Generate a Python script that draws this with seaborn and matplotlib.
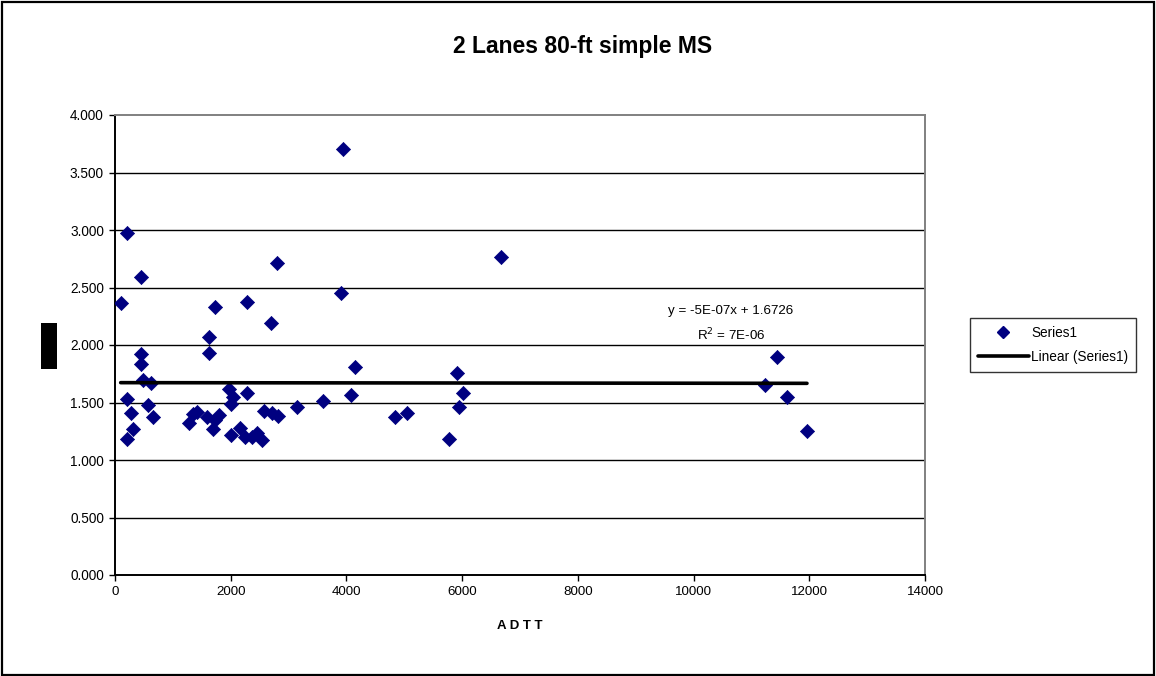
import matplotlib
matplotlib.use("Agg")
import matplotlib.pyplot as plt
from matplotlib.patches import Rectangle
from matplotlib.lines import Line2D
import numpy as np
import pandas as pd
import seaborn as sns

# ADTT vs. ratio, 2 lanes, 80-ft simple span, MS
adtt = [98, 213, 449, 444, 444, 478, 622, 213, 277, 565, 651, 311, 213,
        1285, 1354, 1411, 1584, 1699, 1728, 1803, 1624, 1624, 1728,
        1976, 2034, 2005, 2005, 2160, 2247, 2362, 2449, 2535, 2281, 2281,
        2696, 2800, 2581, 2713, 2812, 3151, 3600,
        3940, 3906, 4148, 4079, 4839, 5047, 5773, 5911, 6015, 5945, 6671,
        11441, 11240, 11614, 11960]
ratio = [2.363, 2.971, 2.591, 1.919, 1.835, 1.696, 1.667, 1.530, 1.406, 1.476, 1.374, 1.267, 1.180,
         1.319, 1.400, 1.420, 1.377, 1.267, 1.348, 1.391, 2.070, 1.930, 2.328,
         1.617, 1.551, 1.487, 1.217, 1.275, 1.203, 1.197, 1.232, 1.174, 2.377, 1.580,
         2.189, 2.713, 1.426, 1.411, 1.385, 1.458, 1.513,
         3.701, 2.452, 1.809, 1.565, 1.374, 1.406, 1.180, 1.757, 1.580, 1.458, 2.765,
         1.893, 1.652, 1.548, 1.249]

# Linear trend as reported on the chart
slope = -5e-07
intercept = 1.6726
r_squared_label = "7E-06"

x_ticks = [0, 2000, 4000, 6000, 8000, 10000, 12000, 14000]
y_ticks = [0.0, 0.5, 1.0, 1.5, 2.0, 2.5, 3.0, 3.5, 4.0]

df = pd.DataFrame({"ADTT": adtt, "ratio": ratio})

sns.set_style("white")
plt.rcParams["font.family"] = ["Liberation Sans", "DejaVu Sans"]
plt.rcParams["text.color"] = "black"
plt.rcParams["axes.labelcolor"] = "black"
plt.rcParams["xtick.color"] = "black"
plt.rcParams["ytick.color"] = "black"

W, H = 1156, 676
fig = plt.figure(figsize=(W / 100, H / 100), dpi=100)
ax = fig.add_axes([115 / W, 1 - 575 / H, (925 - 115) / W, (575 - 115) / H])

navy = "#000080"
sns.scatterplot(data=df, x="ADTT", y="ratio", marker="D", s=52, color=navy,
                edgecolor=navy, linewidth=0.5, ax=ax, zorder=3, legend=False)

xl = np.array([min(adtt), max(adtt)])
sns.lineplot(x=xl, y=slope * xl + intercept, color="black", linewidth=2.6,
             ax=ax, zorder=4, legend=False)

ax.set_xlim(0, 14000)
ax.set_ylim(0, 4.0)
ax.set_xticks(x_ticks)
ax.set_xticklabels([str(t) for t in x_ticks], fontsize=9.6)
ax.set_yticks(y_ticks)
ax.set_yticklabels([f"{t:.3f}" for t in y_ticks], fontsize=9.8)
ax.tick_params(axis="both", direction="out", length=4, width=1, color="black",
               labelcolor="black", bottom=True, left=True, pad=4)

for t in y_ticks[1:-1]:
    ax.axhline(t, color="black", linewidth=1.0, zorder=1)

for side in ("left", "bottom"):
    ax.spines[side].set_color("black")
    ax.spines[side].set_linewidth(1.4)
for side in ("top", "right"):
    ax.spines[side].set_color("#808080")
    ax.spines[side].set_linewidth(1.4)

ax.set_xlabel("A D T T", fontsize=9.5, fontweight="bold", labelpad=16,
              color="black")
ax.set_ylabel("")

fig.text(731 / W, 1 - 311 / H, "y = -5E-07x + 1.6726", fontsize=9.6,
         ha="center", va="center", color="black")
fig.text(731 / W, 1 - 335 / H, r"R$^2$ = " + r_squared_label, fontsize=9.6,
         ha="center", va="center", color="black")

fig.text(583 / W, 1 - 46 / H, "2 Lanes 80-ft simple MS", fontsize=16.5,
         fontweight="bold", ha="center", va="center", color="black")

# legend box
handles = [
    Line2D([], [], marker="D", linestyle="none", color=navy, markersize=6),
    Line2D([], [], color="black", linewidth=2.6),
]
leg = fig.legend(handles, ["Series1", "Linear (Series1)"], loc="center",
                 bbox_to_anchor=(1053 / W, 1 - 345 / H), frameon=True,
                 fancybox=False, edgecolor="black", fontsize=9.8,
                 handlelength=3.8, handletextpad=0.15, borderpad=0.55,
                 labelspacing=0.75, borderaxespad=0)
for txt in leg.get_texts():
    txt.set_color("black")

# filled block beside the y axis
fig.patches.append(Rectangle((41 / W, 1 - 369 / H), 16 / W, 46 / H,
                             transform=fig.transFigure, facecolor="black",
                             edgecolor="none"))
# outer frame
fig.patches.append(Rectangle((2 / W, 1 / H), (W - 4) / W, (H - 3) / H,
                             transform=fig.transFigure, facecolor="none",
                             edgecolor="black", linewidth=1.6))

fig.savefig("out.png", dpi=100)
